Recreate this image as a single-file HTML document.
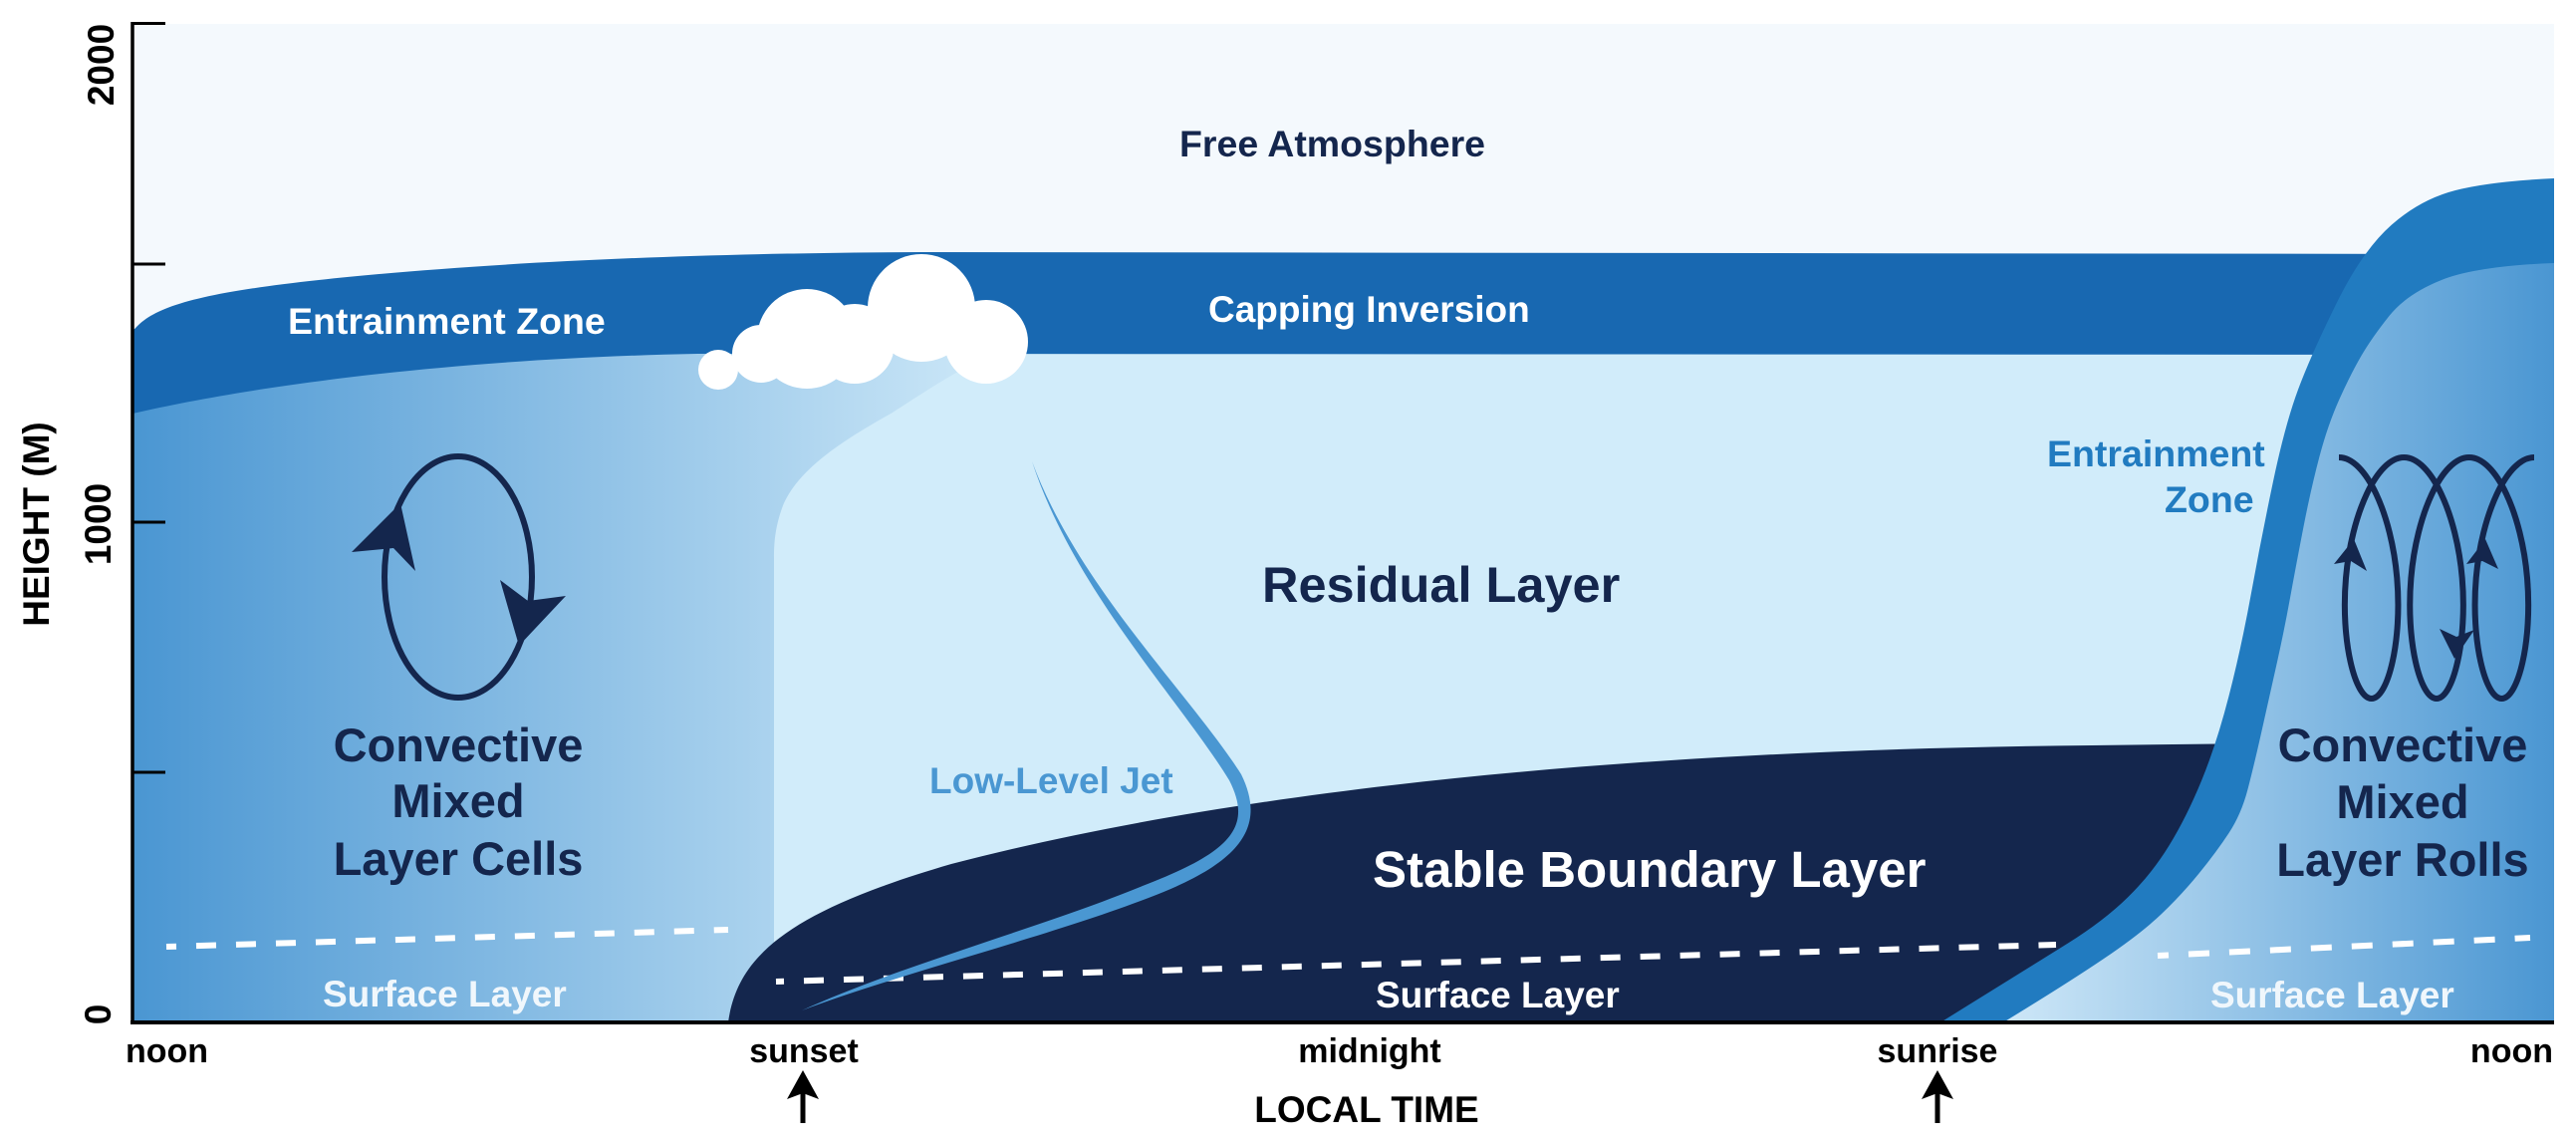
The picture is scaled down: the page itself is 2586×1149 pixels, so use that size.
<!DOCTYPE html>
<html>
<head>
<meta charset="utf-8">
<style>
  html, body { margin: 0; padding: 0; background: #ffffff; }
  body { width: 2586px; height: 1149px; overflow: hidden; }
  svg { display: block; }
  text { font-family: "Liberation Sans", Arial, sans-serif; font-weight: bold; }
</style>
</head>
<body>
<svg width="2586" height="1149" viewBox="0 0 2586 1149" xmlns="http://www.w3.org/2000/svg">
  <defs>
    <linearGradient id="gl" gradientUnits="userSpaceOnUse" x1="133" y1="0" x2="1000" y2="0">
      <stop offset="0" stop-color="#4a96d2"/>
      <stop offset="1" stop-color="#cde8f8"/>
    </linearGradient>
    <linearGradient id="gr" gradientUnits="userSpaceOnUse" x1="2020" y1="0" x2="2564" y2="0">
      <stop offset="0" stop-color="#cce6f7"/>
      <stop offset="1" stop-color="#4a96d2"/>
    </linearGradient>
  </defs>

  <rect x="0" y="0" width="2586" height="1149" fill="#ffffff"/>

  <!-- Free atmosphere -->
  <rect x="133" y="24" width="2431" height="1002" fill="#f4f9fd"/>
  <!-- Residual layer -->
  <rect x="133" y="340" width="2431" height="686" fill="#d1ecfa"/>

  <!-- Convective mixed layer (left) with transition -->
  <path d="M133,330 L1000,330 L1000,356 C975,362 930,392 896,414 C850,440 800,470 785,510 C778,530 777,545 777,560 L777,1026 L133,1026 Z" fill="url(#gl)"/>

  <!-- Entrainment zone / capping inversion band -->
  <path d="M133,333 C150,310 190,295 320,281 C450,267 650,254 925,253 L2564,255 L2564,356 L700,355 C450,360 250,388 133,415 Z" fill="#1868b1"/>

  <!-- Stable boundary layer -->
  <path d="M731,1026 C740,960 790,915 955,867 C1250,790 1650,752 2100,748 L2270,746 L2270,1026 Z" fill="#14264d"/>

  <!-- Right entrainment zone (outer band) -->
  <path d="M1948,1026 Q2040,969 2076,946.5 Q2112,924 2136,900.5 Q2160,877 2177.5,848.5 Q2195,820 2210,783.5 Q2225,747 2237.5,698.5 Q2250,650 2260,595 Q2270,540 2282,483 Q2294,426 2307,391 Q2320,356 2346,303.5 Q2372,251 2401,225.5 Q2430,200 2465,191 Q2500,182 2564,179 L2564,1026 Z" fill="#217bc0"/>

  <!-- Right convective mixed layer -->
  <path d="M2011,1026 Q2075,987 2112,962 Q2149,937 2169.5,917.5 Q2190,898 2207.5,876.5 Q2225,855 2237.5,836 Q2250,817 2256.5,792 Q2263,767 2270.5,733.5 Q2278,700 2285.5,666.5 Q2293,633 2299,600 Q2305,567 2312.5,528.5 Q2320,490 2328.5,458 Q2337,426 2348.5,400.5 Q2360,375 2370.5,357 Q2381,339 2398.5,317 Q2416,295 2451,281 Q2486,267 2564,264 L2564,1026 Z" fill="url(#gr)"/>

  <!-- Cloud -->
  <g fill="#ffffff">
    <circle cx="721" cy="371" r="20"/>
    <circle cx="764" cy="355" r="29"/>
    <circle cx="810" cy="340" r="50"/>
    <circle cx="858" cy="345" r="40"/>
    <circle cx="925" cy="309" r="54"/>
    <circle cx="990" cy="343" r="42"/>
  </g>

  <!-- Dashed surface layer lines -->
  <line x1="167" y1="950" x2="731" y2="933" stroke="#ffffff" stroke-width="6" stroke-dasharray="20 20" stroke-dashoffset="10"/>
  <line x1="779" y1="985" x2="2064" y2="948" stroke="#ffffff" stroke-width="6" stroke-dasharray="20 20" stroke-dashoffset="12"/>
  <line x1="2166" y1="959" x2="2540" y2="941" stroke="#ffffff" stroke-width="6" stroke-dasharray="21 20" stroke-dashoffset="10"/>

  <!-- Low-level jet -->
  <path d="M1036,463 C1082,588 1195,697 1246,777 C1272,830 1246,866 1153,901 C1052,940 900,978 805,1014 C900,970 1048,930 1147,889 C1236,855 1258,830 1234,783 C1185,703 1078,592 1036,463 Z" fill="#4a97d2"/>

  <!-- Convective cell loop (left) -->
  <ellipse cx="460" cy="579" rx="74" ry="121" fill="none" stroke="#14264d" stroke-width="6"/>
  <path d="M402,505 L417,573 L395,550 L353,554 Z" fill="#14264d"/>
  <path d="M521,648 L502,582 L530,603 L568,598 Z" fill="#14264d"/>

  <!-- Convective rolls (right) -->
  <path d="M2348,459 C2375.4,459 2400.9,516.6 2406.3,580 C2411.7,643.4 2397.2,701 2380.7,701 C2364.2,701 2349.6,643.4 2355,580 C2360.4,516.6 2385.9,459 2413.3,459 C2440.7,459 2466.3,516.6 2471.7,580 C2477.1,643.4 2462.5,701 2446,701 C2429.5,701 2415,643.4 2420.4,580 C2425.8,516.6 2451.3,459 2478.7,459 C2506.1,459 2531.6,516.6 2537,580 C2542.4,643.4 2527.9,701 2511.4,701 C2494.9,701 2480.3,643.4 2485.7,580 C2491.1,516.6 2516.6,459 2544,459" fill="none" stroke="#14264d" stroke-width="6"/>
  <path d="M2363,541 L2376,573 L2360,563 L2343,566 Z" fill="#14264d"/>
  <path d="M2495,541 L2508,571 L2492,563 L2476,566 Z" fill="#14264d"/>
  <path d="M2464,661 L2449,631 L2466,639 L2484,632 Z" fill="#14264d"/>

  <!-- Labels in plot -->
  <text x="1184" y="157" font-size="37.5" fill="#14264d">Free Atmosphere</text>
  <text x="289" y="335" font-size="37.5" fill="#ffffff">Entrainment Zone</text>
  <text x="1213" y="323" font-size="37" fill="#ffffff">Capping Inversion</text>
  <text x="1267" y="604" font-size="50.5" fill="#14264d">Residual Layer</text>
  <text x="933" y="796" font-size="37" fill="#4a97d2">Low-Level Jet</text>
  <text x="1378" y="890" font-size="51" fill="#ffffff">Stable Boundary Layer</text>
  <text x="1381" y="1011" font-size="37" fill="#ffffff">Surface Layer</text>
  <text x="324" y="1010" font-size="37" fill="#f0f7fc">Surface Layer</text>
  <text x="2219" y="1011" font-size="37" fill="#f0f7fc">Surface Layer</text>

  <text x="2055" y="468" font-size="37.5" fill="#217bc0">Entrainment</text>
  <text x="2173" y="514" font-size="37.5" fill="#217bc0">Zone</text>

  <g font-size="47" fill="#14264d" text-anchor="middle">
    <text x="460" y="764">Convective</text>
    <text x="460" y="820">Mixed</text>
    <text x="460" y="878">Layer Cells</text>
    <text x="2412" y="764">Convective</text>
    <text x="2412" y="821">Mixed</text>
    <text x="2412" y="879">Layer Rolls</text>
  </g>

  <!-- Axes -->
  <line x1="133" y1="22" x2="133" y2="1028" stroke="#000000" stroke-width="3.5"/>
  <line x1="131" y1="1026" x2="2564" y2="1026" stroke="#000000" stroke-width="4"/>
  <g stroke="#000000" stroke-width="3">
    <line x1="133" y1="23.5" x2="166" y2="23.5"/>
    <line x1="133" y1="265" x2="166" y2="265"/>
    <line x1="133" y1="524" x2="166" y2="524"/>
    <line x1="133" y1="775" x2="166" y2="775"/>
  </g>

  <!-- Y axis labels -->
  <g font-size="37" fill="#000000" text-anchor="middle">
    <text transform="translate(114,65) rotate(-90)">2000</text>
    <text transform="translate(111,526) rotate(-90)">1000</text>
    <text transform="translate(111,1018) rotate(-90)">0</text>
    <text transform="translate(49,526) rotate(-90)">HEIGHT (M)</text>
  </g>

  <!-- X axis labels -->
  <g font-size="34" fill="#000000">
    <text x="126" y="1066">noon</text>
    <text x="807" y="1066" text-anchor="middle">sunset</text>
    <text x="1375" y="1066" text-anchor="middle">midnight</text>
    <text x="1945" y="1066" text-anchor="middle">sunrise</text>
    <text x="2563" y="1066" text-anchor="end">noon</text>
  </g>
  <text x="1372" y="1126" font-size="37" fill="#000000" text-anchor="middle">LOCAL TIME</text>

  <!-- Sunset / sunrise arrows -->
  <g fill="#000000">
    <rect x="803.5" y="1095" width="5" height="32"/>
    <path d="M806,1074 L822,1103 L806,1097 L790,1103 Z"/>
    <rect x="1942.5" y="1095" width="5" height="32"/>
    <path d="M1945,1074 L1961,1103 L1945,1097 L1929,1103 Z"/>
  </g>
</svg>
</body>
</html>
